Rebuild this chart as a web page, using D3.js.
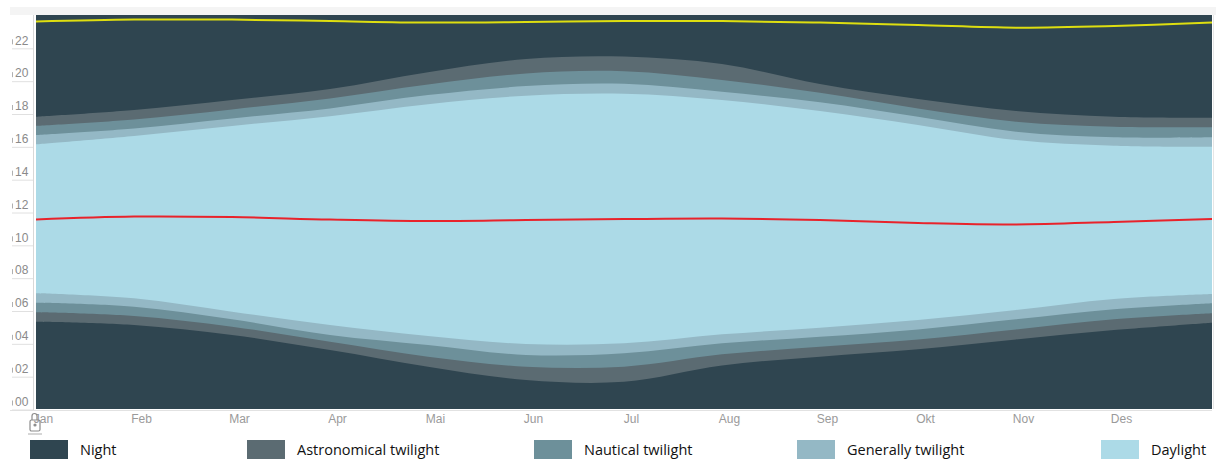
<!DOCTYPE html>
<html>
<head>
<meta charset="utf-8">
<script src="https://cdn.jsdelivr.net/npm/d3@7"></script>
<style>
  html, body { margin: 0; padding: 0; background: #fff; }
  svg { display: block; }
</style>
</head>
<body>
<svg id="chart" width="1216" height="459"></svg>
<script>
// ---- Data (hours of day, sampled at the start of each month; last point = end of December) ----
const months = ["Jan","Feb","Mar","Apr","Mai","Jun","Jul","Aug","Sep","Okt","Nov","Des"];
const samplePoints = [0,1,2,3,4,5,6,7,8,9,10,11,12];
const astroDawn  = [5.32,5.12,4.51,3.59,2.58,1.77,1.66,2.65,3.19,3.64,4.24,4.81,5.26];
const nautDawn   = [5.89,5.66,5.01,4.10,3.19,2.58,2.58,3.33,3.79,4.24,4.85,5.46,5.83];
const civilDawn  = [6.47,6.23,5.46,4.51,3.90,3.29,3.39,4.00,4.40,4.85,5.46,6.07,6.44];
const sunrise    = [7.05,6.74,5.93,5.12,4.45,3.96,4.00,4.55,4.95,5.42,6.03,6.70,7.00];
const sunset     = [16.12,16.63,17.24,17.84,18.57,19.08,19.20,18.82,18.15,17.30,16.38,16.04,15.97];
const civilDusk  = [16.69,17.09,17.70,18.31,19.12,19.67,19.81,19.32,18.68,17.80,16.89,16.55,16.55];
const nautDusk   = [17.25,17.64,18.25,18.92,19.77,20.44,20.57,20.04,19.26,18.31,17.50,17.19,17.17];
const astroDusk  = [17.80,18.21,18.82,19.49,20.52,21.32,21.47,21.01,19.79,18.88,18.15,17.80,17.74];
const solarNoon  = [11.54,11.72,11.69,11.54,11.45,11.51,11.57,11.60,11.51,11.33,11.24,11.39,11.57];
const solarMidnight = [23.60,23.72,23.72,23.63,23.54,23.57,23.63,23.63,23.54,23.39,23.23,23.33,23.54];
const yTicks = [0,2,4,6,8,10,12,14,16,18,20,22];
const yTickLabels = ["00","02","04","06","08","10","12","14","16","18","20","22"];
const legendLabels = ["Night","Astronomical twilight","Nautical twilight","Generally twilight","Daylight"];
const colors = ["#2f4550","#5b6b72","#6d909a","#94b8c5","#acdae7"];

(function () {
// ---- Layout ----
const svg = d3.select("#chart");
const pLeft = 36, pRight = 1212, pTop = 15, pBottom = 409;
const x = d3.scaleLinear().domain([0, 12]).range([pLeft, pRight]);
const y = d3.scaleLinear().domain([0, 24]).range([pBottom, pTop]);

// faint strip above plot
svg.append("rect").attr("x", 10).attr("y", 7).attr("width", 1206).attr("height", pTop - 7).attr("fill", "#f4f4f4");

// night background
svg.append("rect").attr("x", pLeft).attr("y", pTop).attr("width", pRight - pLeft).attr("height", pBottom - pTop).attr("fill", colors[0]);

const curve = d3.curveCatmullRom;
const bands = [
  [astroDawn, astroDusk, colors[1]],
  [nautDawn, nautDusk, colors[2]],
  [civilDawn, civilDusk, colors[3]],
  [sunrise, sunset, colors[4]]
];
bands.forEach(([lo, hi, c]) => {
  const area = d3.area()
    .x((d, i) => x(samplePoints[i]))
    .y0((d, i) => y(lo[i]))
    .y1((d, i) => y(hi[i]))
    .curve(curve);
  svg.append("path").datum(samplePoints).attr("d", area).attr("fill", c);
});

const line = arr => d3.line().x((d, i) => x(samplePoints[i])).y((d, i) => y(arr[i])).curve(curve)(samplePoints);
svg.append("path").attr("d", line(solarNoon)).attr("fill", "none").attr("stroke", "#e8232b").attr("stroke-width", 2);
svg.append("path").attr("d", line(solarMidnight)).attr("fill", "none").attr("stroke", "#dede10").attr("stroke-width", 2);

// border lines
svg.append("line").attr("x1", 33.5).attr("x2", 33.5).attr("y1", pTop).attr("y2", pBottom + 2).attr("stroke", "#d8d8d8");
svg.append("line").attr("x1", 35).attr("x2", 35).attr("y1", pTop).attr("y2", pBottom).attr("stroke", "#ffffff").attr("stroke-width", 2);
svg.append("line").attr("x1", pRight + 1.5).attr("x2", pRight + 1.5).attr("y1", pTop).attr("y2", pBottom).attr("stroke", "#e6e6e6");
svg.append("line").attr("x1", 10).attr("x2", pRight).attr("y1", pBottom + 1.5).attr("y2", pBottom + 1.5).attr("stroke", "#e2e2e2");

// y axis
const yAxis = d3.axisLeft(y).tickValues(yTicks).tickFormat((d, i) => yTickLabels[i]).tickSize(0);
const gy = svg.append("g").attr("transform", `translate(${pLeft},0)`).call(yAxis);
gy.select(".domain").remove();
gy.selectAll(".tick line").remove();
gy.selectAll(".tick").each(function() {
  const t = d3.select(this);
  t.append("line").attr("x1", -24).attr("x2", -3).attr("y1", 0.5).attr("y2", 0.5).attr("stroke", "#e0e0e0");
  t.append("line").attr("x1", -23.5).attr("x2", -23.5).attr("y1", -9).attr("y2", -4).attr("stroke", "#b0b0b0");
});
gy.selectAll(".tick text")
  .attr("x", -21).attr("dy", null).attr("y", -7).attr("dominant-baseline", "middle")
  .attr("text-anchor", "start")
  .attr("fill", "#8a8a8a").attr("font-family", "'Liberation Sans Narrow', 'Liberation Sans', Arial, sans-serif").attr("font-size", 12);

// x axis
const xAxis = d3.axisBottom(x).tickValues(d3.range(12)).tickFormat(i => months[i]).tickSize(0);
const gx = svg.append("g").attr("transform", `translate(0,${pBottom})`).call(xAxis);
gx.select(".domain").remove();
gx.selectAll(".tick text")
  .attr("x", 7).attr("y", 10).attr("dy", "0.35em")
  .attr("fill", "#9a9a9a").attr("font-family", "'Liberation Sans Narrow', 'Liberation Sans', Arial, sans-serif").attr("font-size", 12);

// small icon over Jan label
const icon = svg.append("g").attr("transform", "translate(28,413)").attr("fill", "none").attr("stroke", "#8c8c8c").attr("stroke-width", 1.2);
icon.append("path").attr("d", "M4,7 V3 a2.5,2.5 0 0 1 5,0 V7");
icon.append("rect").attr("x", 2).attr("y", 7).attr("width", 10).attr("height", 11).attr("rx", 1.5);
icon.append("circle").attr("cx", 7).attr("cy", 12).attr("r", 1).attr("fill", "#8c8c8c");
icon.append("line").attr("x1", 0).attr("x2", 14).attr("y1", 21).attr("y2", 21).attr("stroke", "#bbbbbb");

// legend
const legendX = [30, 247, 534, 797, 1101];
const legend = svg.append("g");
legendLabels.forEach((lab, i) => {
  legend.append("rect").attr("x", legendX[i]).attr("y", 440).attr("width", 38).attr("height", 20).attr("fill", colors[i]);
  legend.append("text").attr("x", legendX[i] + 50).attr("y", 451).attr("dominant-baseline", "middle")
    .attr("font-family", "'Open Sans', 'Noto Sans', sans-serif").attr("font-size", 14.5).attr("fill", "#111")
    .text(lab);
});
})();
</script>
</body>
</html>
